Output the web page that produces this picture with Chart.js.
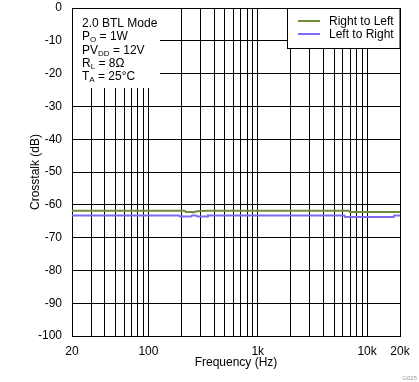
<!DOCTYPE html>
<html>
<head>
<meta charset="utf-8">
<script src="https://cdn.jsdelivr.net/npm/chart.js@4/dist/chart.umd.min.js"></script>
<style>
html,body{margin:0;padding:0;background:#fff;}
#c{display:block;}
</style>
</head>
<body>
<canvas id="c" width="419" height="382"></canvas>
<script>
// ---- data ----
const freqRightToLeft = [20, 215, 220, 250, 255, 280, 345, 6900, 7000, 20000];
const crosstalkRightToLeft = [-61.8, -61.8, -62.2, -62.2, -62.3, -62.0, -61.8, -61.8, -62.2, -62.2];
const freqLeftToRight = [20, 190, 195, 245, 250, 275, 280, 345, 350, 6200, 6300, 17500, 17700, 20000];
const crosstalkLeftToRight = [-63.3, -63.3, -63.6, -63.6, -63.3, -63.3, -63.6, -63.6, -63.3, -63.3, -63.7, -63.7, -63.3, -63.3];
const seriesNames = ["Right to Left", "Left to Right"];
const xGridValues = [20,30,40,50,60,70,80,90,100,200,300,400,500,600,700,800,900,1000,2000,3000,4000,5000,6000,7000,8000,9000,10000,20000];
const xTickLabelValues = [20, 100, 1000, 10000, 20000];
const xTickLabels = ["20", "100", "1k", "10k", "20k"];
const annotationLines = [
  [["2.0 BTL Mode", ""]],
  [["P", ""], ["O", "sub"], [" = 1W", ""]],
  [["PV", ""], ["DD", "sub"], [" = 12V", ""]],
  [["R", ""], ["L", "sub"], [" = 8Ω", ""]],
  [["T", ""], ["A", "sub"], [" = 25°C", ""]]
];

const FONT = '"Liberation Sans", Arial, sans-serif';
const colors = ['#718b3c', '#7b6cf2'];

function pts(xs, ys){ return xs.map((x,i)=>({x:x, y:ys[i]})); }

const overlay = {
  id: 'overlay',
  afterDraw(chart){
    const ctx = chart.ctx;
    const a = chart.chartArea;
    ctx.save();
    // annotation box
    ctx.fillStyle = '#fff';
    ctx.fillRect(a.left + 1, a.top + 1, 160 - a.left - 1, 88 - a.top - 1);
    ctx.fillStyle = '#000';
    ctx.textBaseline = 'alphabetic';
    ctx.textAlign = 'left';
    annotationLines.forEach((line, i) => {
      let x = 82;
      const y = 27 + 13.25 * i;
      line.forEach(([t, kind]) => {
        if (kind === 'sub') {
          ctx.font = '8px ' + FONT;
          ctx.fillText(t, x, y + 2);
        } else {
          ctx.font = '12px ' + FONT;
          ctx.fillText(t, x, y);
        }
        x += ctx.measureText(t).width;
      });
    });
    // legend box
    const lx = 287.5, ly = a.top + 0.5, lw = a.right - 287.5, lh = 48 - a.top;
    ctx.fillStyle = '#fff';
    ctx.fillRect(lx, ly, lw, lh);
    ctx.strokeStyle = '#000';
    ctx.lineWidth = 1;
    ctx.strokeRect(lx, ly, lw, lh);
    ctx.font = '12px ' + FONT;
    ctx.textBaseline = 'middle';
    seriesNames.forEach((n, i) => {
      const yy = 21 + 13 * i;
      ctx.strokeStyle = colors[i];
      ctx.lineWidth = 2;
      ctx.beginPath();
      ctx.moveTo(298, yy);
      ctx.lineTo(320, yy);
      ctx.stroke();
      ctx.fillStyle = '#000';
      ctx.fillText(n, 329, yy + 0.5);
    });
    // figure id
    ctx.font = '6px ' + FONT;
    ctx.fillStyle = '#999';
    ctx.textAlign = 'right';
    ctx.textBaseline = 'alphabetic';
    ctx.fillText('G025', 417, 380);
    ctx.restore();
  }
};

new Chart(document.getElementById('c'), {
  type: 'line',
  data: {
    datasets: [
      { label: seriesNames[0], data: pts(freqRightToLeft, crosstalkRightToLeft), borderColor: colors[0], borderWidth: 2, pointRadius: 0, fill: false, tension: 0 },
      { label: seriesNames[1], data: pts(freqLeftToRight, crosstalkLeftToRight), borderColor: colors[1], borderWidth: 2, pointRadius: 0, fill: false, tension: 0 }
    ]
  },
  options: {
    responsive: false,
    animation: false,
    layout: { padding: { left: 0, right: 19, top: 8, bottom: 0 } },
    plugins: { legend: { display: false }, tooltip: { enabled: false } },
    scales: {
      x: {
        type: 'logarithmic',
        min: 20, max: 20000,
        afterBuildTicks(scale){ scale.ticks = xGridValues.map(v => ({value: v})); },
        afterFit(scale){ scale.height = 46; scale.paddingLeft = 0; scale.paddingRight = 0; },
        ticks: {
          autoSkip: false, maxRotation: 0, minRotation: 0,
          color: '#000', font: { family: FONT, size: 12 }, padding: 8,
          callback(v){ const i = xTickLabelValues.indexOf(v); return i >= 0 ? xTickLabels[i] : ''; }
        },
        grid: { color: '#000', lineWidth: 1, drawTicks: false },
        border: { color: '#000', width: 1 },
        title: { display: true, text: 'Frequency (Hz)', color: '#000', font: { family: FONT, size: 12 }, padding: { top: 0, bottom: 12 } }
      },
      y: {
        min: -100, max: 0,
        afterFit(scale){ scale.width = 72; scale.paddingTop = 0; scale.paddingBottom = 0; },
        ticks: { stepSize: 10, color: '#000', font: { family: FONT, size: 12 }, padding: 10 },
        grid: { color: '#000', lineWidth: 1, drawTicks: false },
        border: { color: '#000', width: 1 },
        title: { display: true, text: 'Crosstalk (dB)', color: '#000', font: { family: FONT, size: 12 }, padding: { top: 28, bottom: 0 } }
      }
    }
  },
  plugins: [overlay]
});
</script>
</body>
</html>
